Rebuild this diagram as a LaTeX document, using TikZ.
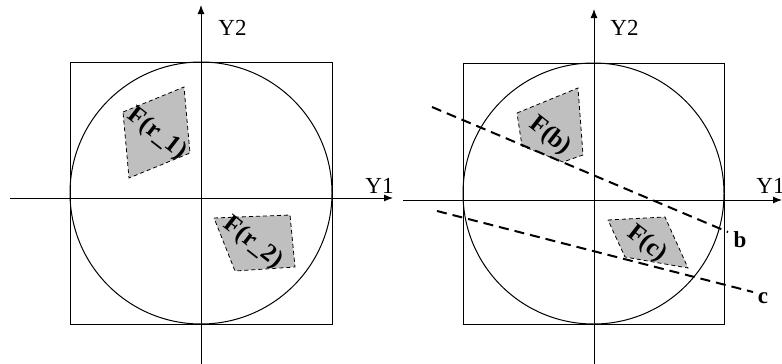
\documentclass[tikz,border=0pt]{standalone}
\usepackage{fontspec}
\setmainfont{Liberation Serif}
\usetikzlibrary{arrows.meta}
\begin{document}
\begin{tikzpicture}[x=0.5pt,y=-0.5pt,
  every node/.style={font=\fontsize{11.5}{13}\selectfont,inner sep=0pt},
  frame/.style={line width=0.5pt},
  axis/.style={line width=0.5pt,-{Latex[length=4.5pt,width=3.5pt]}},
  region/.style={draw,fill=black!25,dash pattern=on 2pt off 1.5pt,line width=0.4pt},
  cut/.style={line width=1pt,dash pattern=on 5pt off 3pt},
  flabel/.style={font=\fontsize{12.5}{14}\selectfont\bfseries,rotate=-38}]
  \useasboundingbox (0,0) rectangle (782,364);
  % left panel
  \draw[frame] (70,62) rectangle (332,324);
  \draw[frame] (201,193) circle [radius=131];
  \coordinate (lx0) at (10,198);
  \coordinate (lx1) at (393,198);
  \coordinate (ly0) at (201,364);
  \coordinate (ly1) at (201,5);
  \draw[axis] (lx0) -- (lx1);
  \draw[axis] (ly0) -- (ly1);
  \node[anchor=west] (ly1lab) at (218,28) {Y2};
  \node[anchor=west] (lx1lab) at (365,186) {Y1};
  \draw[region] (123,112) -- (184,87) -- (190,153) -- (129,178) -- cycle;
  \draw[region] (214,218) -- (290,215) -- (295,267) -- (235,271) -- cycle;
  \node[flabel] (fr1) at (157,134) {F(r\_1)};
  \node[flabel] (fr2) at (253,243) {F(r\_2)};
  % right panel
  \draw[frame] (463,63) rectangle (724,324);
  \draw[frame] (593.5,193.5) circle [radius=130.5];
  \coordinate (rx0) at (403,200);
  \coordinate (rx1) at (782,200);
  \coordinate (ry0) at (594,364);
  \coordinate (ry1) at (594,9);
  \draw[axis] (rx0) -- (rx1);
  \draw[axis] (ry0) -- (ry1);
  \node[anchor=west] (ry1lab) at (610,28) {Y2};
  \node[anchor=west] (rx1lab) at (756,186) {Y1};
  \draw[region] (517,113) -- (578,88) -- (583,155) -- (563,162) -- (522,146) -- cycle;
  \draw[region] (608,220) -- (665,217) -- (688,268) -- (625,257) -- cycle;
  \node[flabel] (fb) at (550,136) {F(b)};
  \node[flabel] (fc) at (647,244) {F(c)};
  % cutting lines
  \coordinate (b0) at (432,107);
  \coordinate (b1) at (728,232);
  \coordinate (c0) at (437,211);
  \coordinate (c1) at (753,292);
  \node[font=\fontsize{11.5}{13}\selectfont\bfseries] (blab) at (740,240) {b};
  \node[font=\fontsize{11.5}{13}\selectfont\bfseries] (clab) at (763,298) {c};
  \draw[cut] (b0) -- (b1);
  \draw[cut] (c0) -- (c1);
\end{tikzpicture}
\end{document}
